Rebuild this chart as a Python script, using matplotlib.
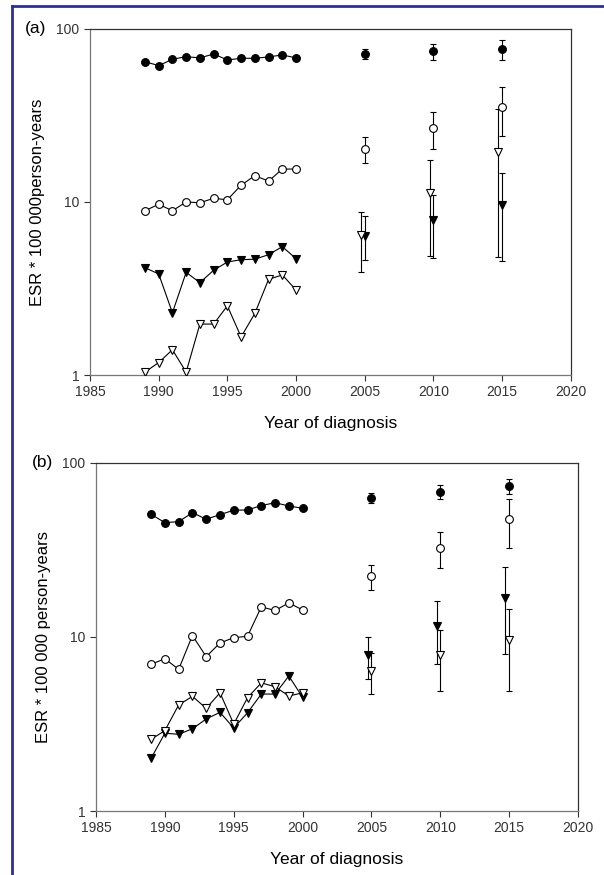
import numpy as np
import matplotlib
matplotlib.use("Agg")
import matplotlib.pyplot as plt
from matplotlib.lines import Line2D

plt.rcParams['font.family'] = ['Liberation Sans', 'DejaVu Sans']

years = [1989, 1990, 1991, 1992, 1993, 1994, 1995, 1996, 1997, 1998, 1999, 2000]
proj_years = [2005, 2010, 2015]

# panel (a)
a_fill_circ = [64.7, 61.4, 66.8, 69.2, 68.0, 71.7, 66.2, 67.7, 67.7, 68.9, 70.8, 68.0]
a_open_circ = [8.9, 9.7, 8.9, 10.0, 9.9, 10.5, 10.3, 12.5, 14.2, 13.2, 15.5, 15.5]
a_fill_tri = [4.17, 3.84, 2.29, 3.92, 3.42, 4.03, 4.50, 4.64, 4.67, 4.96, 5.52, 4.70]
a_open_tri = [1.04, 1.18, 1.40, 1.04, 1.97, 1.97, 2.51, 1.66, 2.27, 3.57, 3.79, 3.10]

a_fill_circ_p = [71.7, 74.3, 76.6]
a_fill_circ_lo = [66.8, 66.2, 65.9]
a_fill_circ_hi = [76.6, 82.2, 86.8]
a_open_circ_p = [20.3, 26.9, 35.4]
a_open_circ_lo = [16.9, 20.3, 24.1]
a_open_circ_hi = [23.8, 33.3, 46.4]
a_fill_tri_p = [6.4, 7.87, 9.62]
a_fill_tri_lo = [4.6, 4.73, 4.56]
a_fill_tri_hi = [8.3, 11.0, 14.7]
a_open_tri_p = [6.44, 11.2, 19.5]
a_open_tri_lo = [3.95, 4.87, 4.83]
a_open_tri_hi = [8.79, 17.4, 34.4]

# panel (b)
b_fill_circ = [50.7, 45.4, 46.0, 51.8, 47.5, 50.5, 53.5, 53.7, 56.9, 59.1, 56.6, 54.9]
b_open_circ = [6.97, 7.50, 6.52, 10.2, 7.71, 9.24, 9.91, 10.1, 14.9, 14.2, 15.7, 14.3]
b_fill_tri = [2.01, 2.80, 2.76, 2.97, 3.38, 3.69, 3.00, 3.67, 4.70, 4.70, 5.97, 4.50]
b_open_tri = [2.58, 2.90, 4.07, 4.56, 3.89, 4.78, 3.16, 4.48, 5.45, 5.18, 4.58, 4.78]

b_fill_circ_p = [63.2, 68.4, 73.8]
b_fill_circ_lo = [59.1, 62.4, 66.1]
b_fill_circ_hi = [67.5, 74.5, 80.9]
b_open_circ_p = [22.4, 32.6, 47.5]
b_open_circ_lo = [18.6, 24.9, 32.5]
b_open_circ_hi = [26.0, 40.3, 61.8]
b_fill_tri_p = [7.85, 11.5, 16.8]
b_fill_tri_lo = [5.71, 6.97, 7.98]
b_fill_tri_hi = [10.04, 16.0, 25.3]
b_open_tri_p = [6.40, 7.88, 9.62]
b_open_tri_lo = [4.72, 4.91, 4.91]
b_open_tri_hi = [8.13, 10.9, 14.5]


def err(y, lo, hi):
    y = np.array(y); lo = np.array(lo); hi = np.array(hi)
    return [y - lo, hi - y]


def panel(ax, series, proj, letter, ylab, lx):
    styles = [('o', 'black'), ('o', 'white'), ('v', 'black'), ('v', 'white')]
    for (m, fc), vals in zip(styles, series):
        ax.plot(years, vals, '-', color='black', lw=0.8, marker=m, ms=5.6,
                mfc=fc, mec='black', mew=0.8, zorder=3)
    for (m, fc), (vals, lo, hi, dx) in zip(styles, proj):
        xs = np.array(proj_years) + dx
        ax.errorbar(xs, vals, yerr=err(vals, lo, hi), fmt=m, ms=5.6, mfc=fc,
                    mec='black', mew=0.8, ecolor='black', elinewidth=0.8,
                    capsize=2.5, capthick=0.8, zorder=3)
    ax.set_yscale('log')
    ax.set_ylim(1, 100)
    ax.set_xlim(1985, 2020)
    ax.set_xticks([1985, 1990, 1995, 2000, 2005, 2010, 2015, 2020])
    ax.set_yticks([1, 10, 100])
    ax.set_yticklabels(['1', '10', '100'])
    ax.minorticks_off()
    ax.tick_params(labelsize=10, length=4, width=0.8, colors='#333333')
    for s in ['left', 'bottom']:
        ax.spines[s].set_color('#777777')
    for s in ['top', 'right']:
        ax.spines[s].set_color('#333333')
    for s in ax.spines.values():
        s.set_linewidth(0.9)
    ax.set_xlabel('Year of diagnosis', fontsize=12.5, labelpad=12)
    ax.set_ylabel(ylab, fontsize=12, labelpad=8)
    ax.text(lx, 1.0, letter, transform=ax.transAxes, fontsize=12.5,
            ha='left', va='center')


fig = plt.figure(figsize=(6.04, 8.75), dpi=100)
ax1 = fig.add_axes([0.149, 0.5714, 0.796, 0.3955])
ax2 = fig.add_axes([0.159, 0.0731, 0.798, 0.3978])

panel(ax1, [a_fill_circ, a_open_circ, a_fill_tri, a_open_tri],
      [(a_fill_circ_p, a_fill_circ_lo, a_fill_circ_hi, 0),
       (a_open_circ_p, a_open_circ_lo, a_open_circ_hi, 0),
       (a_fill_tri_p, a_fill_tri_lo, a_fill_tri_hi, 0),
       (a_open_tri_p, a_open_tri_lo, a_open_tri_hi, -0.27)],
      '(a)', 'ESR * 100 000person-years', -0.135)
panel(ax2, [b_fill_circ, b_open_circ, b_fill_tri, b_open_tri],
      [(b_fill_circ_p, b_fill_circ_lo, b_fill_circ_hi, 0),
       (b_open_circ_p, b_open_circ_lo, b_open_circ_hi, 0),
       (b_fill_tri_p, b_fill_tri_lo, b_fill_tri_hi, -0.27),
       (b_open_tri_p, b_open_tri_lo, b_open_tri_hi, 0)],
      '(b)', 'ESR * 100 000 person-years', -0.133)

# blue frame lines on the left and top
fig.add_artist(Line2D([12 / 604, 12 / 604], [0, 1 - 6 / 875], color='#2e3192', lw=2))
fig.add_artist(Line2D([12 / 604, 1], [1 - 6 / 875, 1 - 6 / 875], color='#2e3192', lw=2))

fig.savefig('out.png', dpi=100)
